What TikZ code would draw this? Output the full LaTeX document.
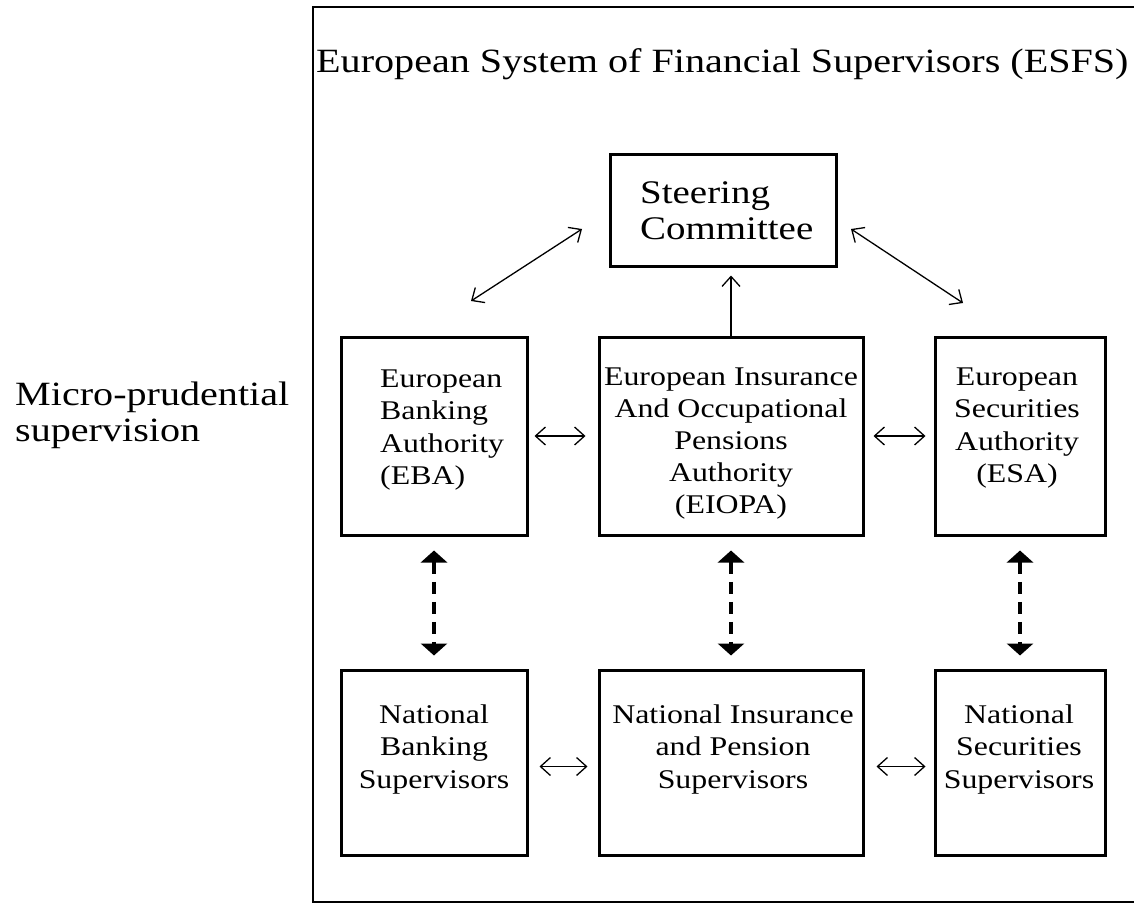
\documentclass[tikz,border=0pt]{standalone}
\usepackage{fontspec}
\setmainfont{Liberation Serif}[FakeStretch=1.18]
\usetikzlibrary{arrows.meta}

\begin{document}
\begin{tikzpicture}[x=1pt,y=-1pt,
  box/.style={draw, line width=3pt, inner sep=0pt},
  boxtxt/.style={inner sep=0pt, anchor=north, align=center,
    font=\fontsize{27}{32.5}\selectfont},
  thinarr/.style={line width=1.3pt, {Straight Barb[length=10pt,width=18pt]}-{Straight Barb[length=10pt,width=18pt]}},
  uparr/.style={line width=1.3pt, -{Straight Barb[length=10pt,width=18pt]}},
  dasharr/.style={line width=4.5pt, dash pattern=on 12pt off 8pt,
    {Triangle[length=12pt,width=26pt]}-{Triangle[length=12pt,width=26pt]}},
]
\useasboundingbox (0,0) rectangle (1134,904);
\clip (0,0) rectangle (1134,904);

% outer frame of the ESFS
\draw[line width=2.5pt] (1150,7) -- (313,7) -- (313,902) -- (1150,902);

% headings
\node[inner sep=0pt, anchor=base west, font=\fontsize{34}{40}\selectfont]
  (title) at (316,73) {European System of Financial Supervisors (ESFS)};
\node[inner sep=0pt, anchor=north west, align=left, font=\fontsize{34}{36}\selectfont]
  (micro) at (15,379.8) {\strut Micro-prudential\\supervision};

% boxes
\node[box, minimum width=226pt, minimum height=111pt] (sc) at (723,210.5) {};
\node[box, minimum width=186pt, minimum height=198pt] (eba) at (434,436) {};
\node[box, minimum width=264pt, minimum height=198pt] (eiopa) at (731,436) {};
\node[box, minimum width=170pt, minimum height=198pt] (esa) at (1020,436) {};
\node[box, minimum width=186pt, minimum height=185pt] (nbs) at (434,762.5) {};
\node[box, minimum width=264pt, minimum height=185pt] (nip) at (731,762.5) {};
\node[box, minimum width=170pt, minimum height=185pt] (nss) at (1020,762.5) {};

% box texts
\node[inner sep=0pt, anchor=north west, align=left, font=\fontsize{33}{36}\selectfont]
  (scT) at (640,177.8) {\strut Steering\\Committee};
\node[boxtxt, anchor=north west, align=left] (ebaT) at (380,364.25)
  {\strut European\\Banking\\Authority\\(EBA)};
\node[boxtxt, font=\fontsize{27}{32}\selectfont] (eiopaT) at (731,362.6)
  {\strut European Insurance\\And Occupational\\Pensions\\Authority\\(EIOPA)};
\node[boxtxt] (esaT) at (1017,362.25)
  {\strut European\\Securities\\Authority\\(ESA)};
\node[boxtxt] (nbsT) at (434,700.25) {\strut National\\Banking\\Supervisors};
\node[boxtxt] (nipT) at (733,700.25) {\strut National Insurance\\and Pension\\Supervisors};
\node[boxtxt] (nssT) at (1019,700.25) {\strut National\\Securities\\Supervisors};

% links to the steering committee
\coordinate (dlA) at (471,301);
\coordinate (dlB) at (582,229);
\coordinate (drA) at (851,229);
\coordinate (drB) at (963,303);
\draw[thinarr] (dlA) -- (dlB);
\draw[thinarr] (drA) -- (drB);
\draw[uparr, shorten >=8pt] (eiopa.north) -- (eiopa.north |- sc.south);

% horizontal links
\draw[thinarr, shorten <=6pt, shorten >=12pt] (eba.east) -- (eiopa.west);
\draw[thinarr, shorten <=9pt, shorten >=8pt] (eiopa.east) -- (esa.west);
\draw[thinarr, shorten <=11pt, shorten >=10pt] ([yshift=-4pt]nbs.east) -- ([yshift=-4pt]nip.west);
\draw[thinarr, shorten <=12pt, shorten >=8pt] ([yshift=-4pt]nip.east) -- ([yshift=-4pt]nss.west);

% European authorities to national supervisors
\draw[dasharr, shorten <=14pt, shorten >=13pt] (eba.south) -- (nbs.north);
\draw[dasharr, shorten <=14pt, shorten >=13pt] (eiopa.south) -- (nip.north);
\draw[dasharr, shorten <=14pt, shorten >=13pt] (esa.south) -- (nss.north);
\end{tikzpicture}
\end{document}
